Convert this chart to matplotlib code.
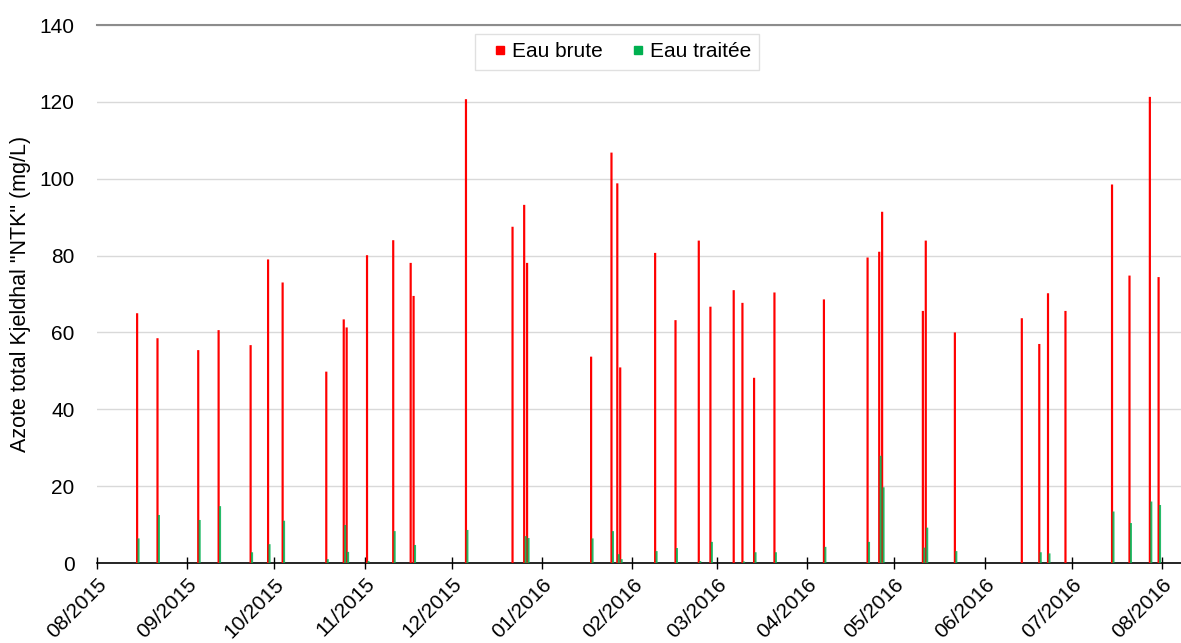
import numpy as np
import matplotlib
matplotlib.use('Agg')
import matplotlib.pyplot as plt
import matplotlib.dates as mdates
from matplotlib.lines import Line2D

# sampling dates and NTK values (mg/L)
dates = ['2015-08-15', '2015-08-22', '2015-09-05', '2015-09-12', '2015-09-23', '2015-09-29',
         '2015-10-04', '2015-10-19', '2015-10-25', '2015-10-26', '2015-11-02', '2015-11-11',
         '2015-11-17', '2015-11-18', '2015-12-06', '2015-12-22', '2015-12-26', '2015-12-27',
         '2016-01-18', '2016-01-25', '2016-01-27', '2016-01-28', '2016-02-09', '2016-02-16',
         '2016-02-24', '2016-02-28', '2016-03-07', '2016-03-10', '2016-03-14', '2016-03-21',
         '2016-04-07', '2016-04-22', '2016-04-26', '2016-04-27', '2016-05-11', '2016-05-12',
         '2016-05-22', '2016-06-14', '2016-06-20', '2016-06-23', '2016-06-29', '2016-07-15',
         '2016-07-21', '2016-07-28', '2016-07-31']
eau_brute = [65.0, 58.5, 55.4, 60.6, 56.7, 79.0, 73.0, 49.8, 63.4, 61.3, 80.1, 84.0,
             78.1, 69.5, 120.7, 87.5, 93.2, 78.1, 53.7, 106.8, 98.8, 50.9, 80.7, 63.2,
             83.9, 66.7, 71.0, 67.7, 48.2, 70.4, 68.6, 79.5, 81.0, 91.4, 65.6, 83.9,
             60.0, 63.7, 57.0, 70.2, 65.6, 98.5, 74.8, 121.3, 74.4]
eau_traitee = [6.4, 12.5, 11.2, 14.8, 2.8, 4.9, 11.0, 1.0, 9.9, 2.9, 0.5, 8.3,
               0.0, 4.7, 8.6, 0.0, 7.0, 6.5, 6.4, 8.3, 2.3, 1.0, 3.1, 3.9,
               0.5, 5.5, 0.0, 0.4, 2.8, 2.8, 4.2, 5.5, 27.9, 19.7, 4.0, 9.2,
               3.1, 0.0, 2.8, 2.5, 0.0, 13.4, 10.4, 16.0, 15.1]
month_ticks = ['2015-%02d-01' % m for m in range(8, 13)] + ['2016-%02d-01' % m for m in range(1, 9)]

red = '#FF0000'
green = '#00B050'
font = 'Liberation Sans'

x = mdates.date2num(np.array(dates, dtype='datetime64[D]'))

fig = plt.figure(figsize=(11.81, 6.43), dpi=100)
ax = fig.add_axes([0.0821, 0.1244, 0.9179, 0.8367])

# thin bars, no pixel snapping so they blend like the original
ax.bar(x - 0.2, eau_brute, width=0.75, color=red, linewidth=0, zorder=3, snap=False)
ax.bar(x + 0.3, eau_traitee, width=0.7, color=green, alpha=0.85, linewidth=0, zorder=4, snap=False)

ax.set_ylim(0, 140)
ax.set_yticks(range(0, 141, 20))
ax.set_xlim(mdates.datestr2num('2015-08-01'), mdates.datestr2num('2016-08-07') + 0.5)
ax.set_xticks(mdates.date2num(np.array(month_ticks, dtype='datetime64[D]')))
ax.xaxis.set_major_formatter(mdates.DateFormatter('%m/%Y'))

ax.grid(True, axis='y', color='#d9d9d9', linewidth=1, zorder=0)
ax.set_axisbelow(True)
for s in ['left', 'right']:
    ax.spines[s].set_visible(False)
ax.spines['top'].set_color('#8c8c8c')
ax.spines['top'].set_linewidth(1.5)
ax.spines['bottom'].set_color('black')
ax.spines['bottom'].set_linewidth(1.2)

ax.tick_params(axis='y', length=0, pad=16, labelsize=15)
ax.tick_params(axis='x', direction='inout', length=8.6, width=1, pad=4, labelsize=15)
for lab in ax.get_xticklabels():
    lab.set_rotation(45)
    lab.set_ha('right')
    lab.set_rotation_mode('anchor')
for lab in ax.get_xticklabels() + ax.get_yticklabels():
    lab.set_family(font)

ax.set_ylabel('Azote total Kjeldhal "NTK" (mg/L)', fontsize=15.5, family=font, labelpad=6)

handles = [Line2D([], [], marker='s', linestyle='none', color=red, markersize=6),
           Line2D([], [], marker='s', linestyle='none', color=green, markersize=6)]
leg = ax.legend(handles, ['Eau brute', 'Eau traitée'], loc='upper center', ncol=2,
                bbox_to_anchor=(0.480, 0.983), borderaxespad=0,
                prop={'family': font, 'size': 15},
                frameon=True, fancybox=False, handlelength=1.6, handletextpad=-0.25,
                columnspacing=0.9, borderpad=0.4)
leg.get_frame().set_edgecolor('#d9d9d9')
leg.get_frame().set_linewidth(1)

fig.savefig('out.png', dpi=100)
